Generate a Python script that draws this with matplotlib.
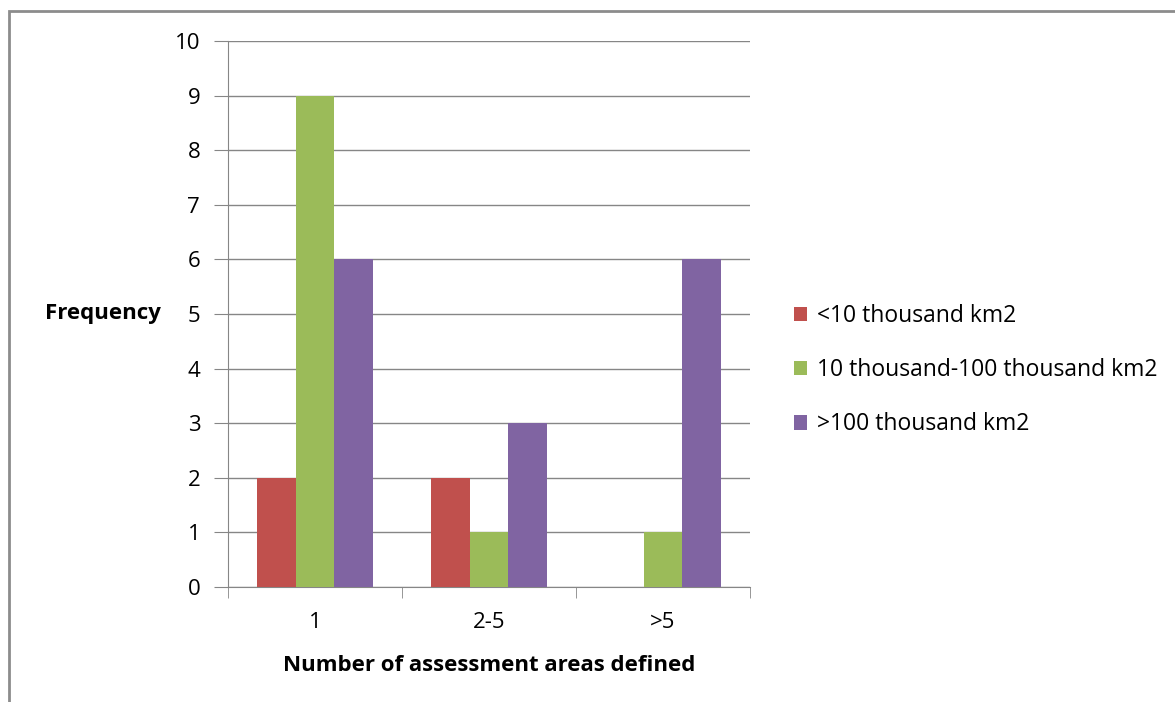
import matplotlib.pyplot as plt
import numpy as np
from matplotlib.patches import Rectangle

categories = ['1', '2-5', '>5']
series_names = ['<10 thousand km2', '10 thousand-100 thousand km2', '>100 thousand km2']
small = [2, 2, 0]
medium = [9, 1, 1]
large = [6, 3, 6]
colors = ['#C0504D', '#9BBB59', '#8064A2']

plt.rcParams['font.family'] = ['Open Sans', 'DejaVu Sans']

fig = plt.figure(figsize=(11.75, 7.02), dpi=100)
ax = fig.add_axes([228 / 1175, 1 - 587 / 702, 522 / 1175, 546 / 702])

# outer chart border (runs off the right and bottom edges)
fig.patches.append(Rectangle((9 / 1175, -0.05), 1.2, 1 - 11 / 702 + 0.05,
                             transform=fig.transFigure, fill=False,
                             edgecolor='#8c8c8c', linewidth=2))

x = np.arange(len(categories))
w = 0.667 / 3
for i, (vals, name) in enumerate(zip([small, medium, large], series_names)):
    ax.bar(x + (i - 1) * w, vals, w, color=colors[i], label=name, zorder=3)

ax.set_xlim(-0.5, 2.5)
ax.set_ylim(0, 10)
ax.set_yticks(range(0, 11))
ax.yaxis.grid(True, color='#868686', linewidth=1)
ax.set_axisbelow(True)

ax.set_xticks(x)
ax.set_xticklabels(categories)
ax.set_xticks([-0.5, 0.5, 1.5, 2.5], minor=True)
ax.tick_params(axis='x', which='major', length=0, pad=18, labelsize=16)
ax.tick_params(axis='x', which='minor', length=8, color='#868686')
ax.tick_params(axis='y', length=10, color='#868686', pad=10, labelsize=16)

for s in ['top', 'right']:
    ax.spines[s].set_visible(False)
for s in ['left', 'bottom']:
    ax.spines[s].set_color('#868686')

ax.set_xlabel('Number of assessment areas defined', fontsize=16, fontweight='bold', labelpad=16)
ax.set_ylabel('Frequency', fontsize=16, fontweight='bold', rotation=0, labelpad=52, va='center')

ax.legend(loc='center left', bbox_to_anchor=(1.044, 0.397), frameon=False, fontsize=16.5,
          handlelength=0.6, handleheight=0.6, handletextpad=0.4, labelspacing=1.32)

plt.savefig('out.png', dpi=100)
